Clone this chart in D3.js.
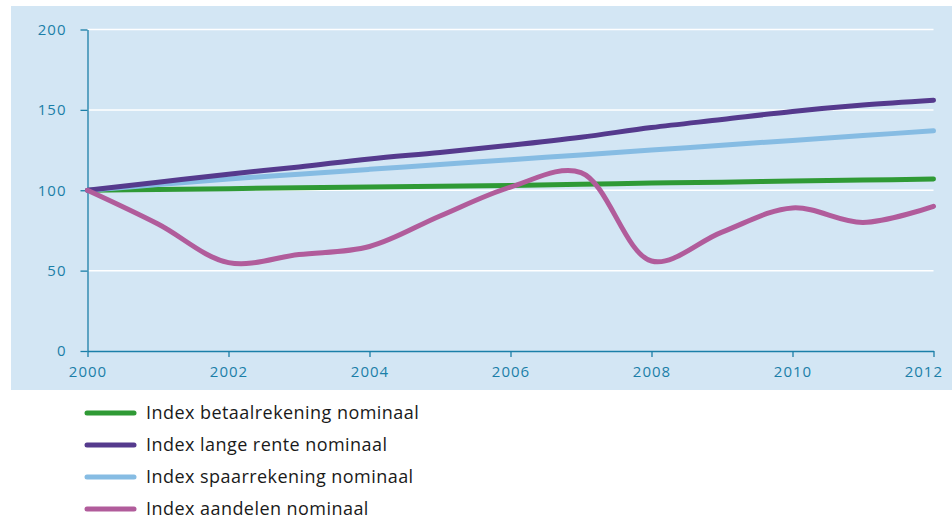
<!DOCTYPE html>
<html>
<head>
<meta charset="utf-8">
<script src="https://cdn.jsdelivr.net/npm/d3@7"></script>
<style>
  body { margin: 0; background: #fff; }
  svg text { font-family: "Open Sans", "Noto Sans", sans-serif; }
</style>
</head>
<body>
<svg id="chart" width="952" height="520"></svg>
<script>
// data
var years = [2000, 2001, 2002, 2003, 2004, 2005, 2006, 2007, 2008, 2009, 2010, 2011, 2012];
var betaal = [100, 100.5, 101, 101.5, 102, 102.5, 103, 103.7, 104.5, 105, 105.7, 106.3, 107];
var langeRente = [100, 105, 110, 114.5, 119.5, 123.5, 128, 133, 139, 144, 149, 153, 156];
var spaar = [100, 103.5, 107, 110, 113, 116, 119, 122, 125, 128, 131, 134, 137];
var aandelen = [100, 79, 55, 60, 65, 84, 102, 111, 56, 74, 89, 80, 90];
var yTicks = [0, 50, 100, 150, 200];
var xTicks = [2000, 2002, 2004, 2006, 2008, 2010, 2012];

var series = [
  { name: "Index betaalrekening nominaal", values: betaal, color: "#2f9a35" },
  { name: "Index lange rente nominaal", values: langeRente, color: "#553a8d" },
  { name: "Index spaarrekening nominaal", values: spaar, color: "#86bce3" },
  { name: "Index aandelen nominaal", values: aandelen, color: "#b15c9b" }
];
var drawOrder = [0, 2, 1, 3];

var svg = d3.select("#chart");
var axisColor = "#1b7fa8";

// achtergrond
svg.append("rect")
  .attr("x", 11).attr("y", 6)
  .attr("width", 941).attr("height", 384)
  .attr("fill", "#d3e6f4");

var x = d3.scaleLinear().domain([2000, 2012]).range([87.5, 933.5]);
var y = d3.scaleLinear().domain([0, 200]).range([351, 29.5]);

// rasterlijnen
svg.append("g").selectAll("line")
  .data(yTicks.filter(d => d > 0))
  .enter().append("line")
  .attr("x1", x(2000)).attr("x2", x(2012))
  .attr("y1", d => y(d)).attr("y2", d => y(d))
  .attr("stroke", "#fff").attr("stroke-width", 1.5);

// assen
var xAxis = svg.append("g")
  .attr("transform", "translate(0," + y(0) + ")")
  .call(d3.axisBottom(x).tickValues(xTicks).tickFormat(d3.format("d")).tickSize(6).tickSizeOuter(0).tickPadding(6));
var yAxis = svg.append("g")
  .attr("transform", "translate(" + x(2000) + ",0)")
  .call(d3.axisLeft(y).tickValues(yTicks).tickSize(7).tickSizeOuter(0).tickPadding(14));

[xAxis, yAxis].forEach(function(g) {
  g.select(".domain").attr("stroke", axisColor).attr("stroke-width", 1.3);
  g.selectAll(".tick line").attr("stroke", axisColor).attr("stroke-width", 1.3);
  g.selectAll(".tick text").attr("fill", axisColor)
    .style("font-size", "15px").style("letter-spacing", "1px");
});
xAxis.selectAll(".tick text").attr("dy", "0.9em");
// laatste label binnen het kader houden
xAxis.selectAll(".tick text").filter(d => d === 2012)
  .attr("text-anchor", "end").attr("x", 9);

// lijnen
var line = d3.line()
  .x((d, i) => x(years[i]))
  .y(d => y(d))
  .curve(d3.curveCatmullRom.alpha(0.5));

drawOrder.forEach(function(k) {
  var s = series[k];
  svg.append("path")
    .datum(s.values)
    .attr("d", line)
    .attr("fill", "none")
    .attr("stroke", s.color)
    .attr("stroke-width", 5)
    .attr("stroke-linecap", "round")
    .attr("stroke-linejoin", "round");
});

// legenda
var legend = svg.append("g").selectAll("g")
  .data(series)
  .enter().append("g")
  .attr("transform", (d, i) => "translate(0," + (413 + i * 32) + ")");
legend.append("line")
  .attr("x1", 87).attr("x2", 134)
  .attr("stroke", d => d.color)
  .attr("stroke-width", 5)
  .attr("stroke-linecap", "round");
legend.append("text")
  .attr("x", 146).attr("y", 0)
  .attr("dy", "0.35em")
  .attr("fill", "#1a1a1a")
  .style("font-size", "18px")
  .style("letter-spacing", "0.45px")
  .text(d => d.name);
</script>
</body>
</html>
